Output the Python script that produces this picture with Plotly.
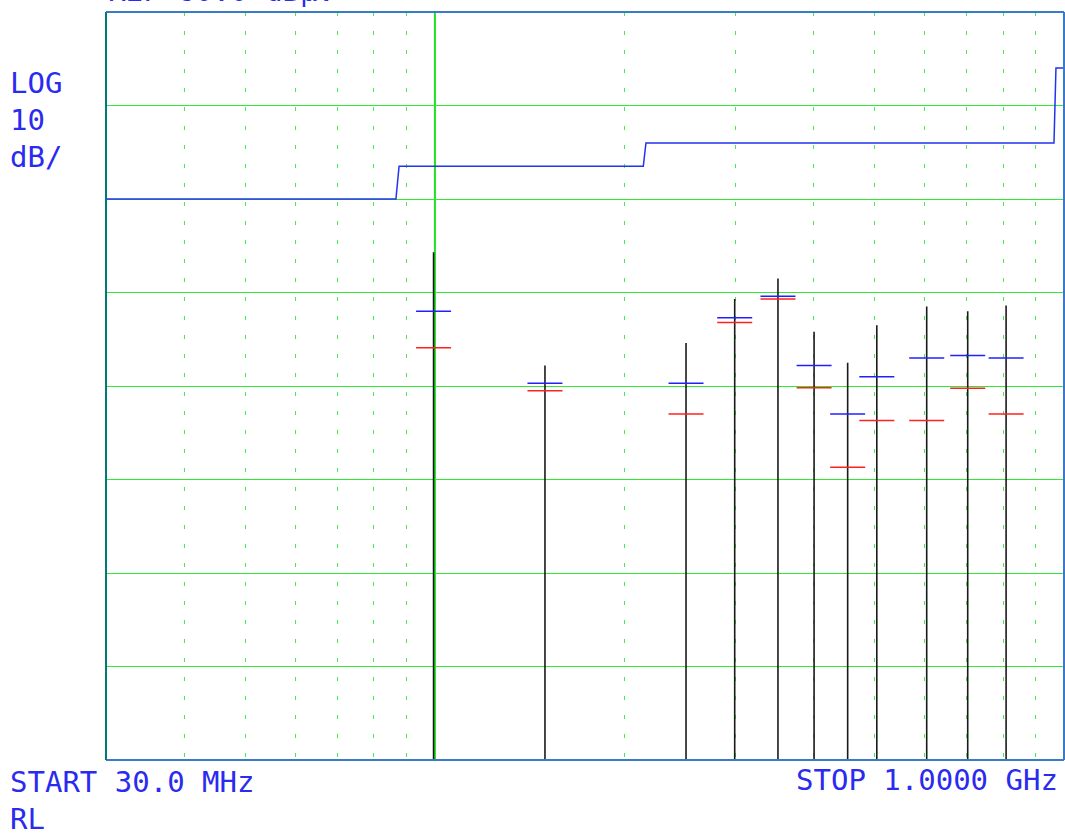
import math
import plotly.graph_objects as go

# ---- data ----
peak_freqs_mhz = [99.5, 149.6, 250.7, 299.6, 351.0, 400.6, 453.0, 504.0, 605.0, 703.0, 809.0]
peak_levels = [34.3, 22.2, 24.6, 29.3, 31.5, 25.8, 22.5, 26.5, 28.5, 28.0, 28.6]
qp_blue_levels = [28.0, 20.3, 20.3, 27.3, 29.6, 22.2, 17.0, 21.0, 23.0, 23.25, 23.0]
avg_red_levels = [24.1, 19.5, 17.0, 26.8, 29.3, 19.8, 11.3, 16.3, 16.3, 19.75, 17.0]

limit_freqs_mhz = [30, 86.7, 87.7, 214.4, 216.5, 964, 971, 1000]
limit_levels = [40, 40, 43.5, 43.5, 46, 46, 54, 54]

ref_level = 60.0
db_per_div = 10
n_div = 8
start_mhz = 30.0
stop_mhz = 1000.0
grid_freqs_mhz = [40, 50, 60, 70, 80, 90, 200, 300, 400, 500, 600, 700, 800, 900]
marker_freq_mhz = 100

bottom_level = ref_level - db_per_div * n_div

W, H = 1065, 836
L, R, T, B = 106, 1, 12, 76
GREEN = "#30ea30"
GREEN_DOT = "#44ee44"
TXT = "#2a2af0"
FONT = "DejaVu Sans Mono"

fig = go.Figure()

# limit line
fig.add_trace(go.Scatter(x=limit_freqs_mhz, y=limit_levels, mode="lines",
                         line=dict(color="#2233ee", width=1.5), hoverinfo="skip"))

# peak sticks
sx, sy = [], []
for f, v in zip(peak_freqs_mhz, peak_levels):
    sx += [f, f, None]
    sy += [bottom_level, v, None]
fig.add_trace(go.Scatter(x=sx, y=sy, mode="lines",
                         line=dict(color="#1a1a1a", width=1.6), hoverinfo="skip"))

# markers
fig.add_trace(go.Scatter(x=peak_freqs_mhz, y=avg_red_levels, mode="markers",
                         marker=dict(symbol="line-ew", size=25,
                                     line=dict(color="#ff2020", width=1.5))))
fig.add_trace(go.Scatter(x=peak_freqs_mhz, y=qp_blue_levels, mode="markers",
                         marker=dict(symbol="line-ew", size=25,
                                     line=dict(color="#2020ff", width=1.5))))

# solid marker line at 100 MHz
fig.add_shape(type="line", xref="x", yref="paper", x0=marker_freq_mhz, x1=marker_freq_mhz,
              y0=0, y1=1, line=dict(color="#22e022", width=2), layer="below")

# frame: left teal, top/bottom/right blue
fig.add_shape(type="line", xref="paper", yref="paper", x0=0, x1=1, y0=1, y1=1,
              line=dict(color="#3a7bc8", width=2))
fig.add_shape(type="line", xref="paper", yref="paper", x0=0, x1=1, y0=0, y1=0,
              line=dict(color="#3a7bc8", width=2))
fig.add_shape(type="line", xref="paper", yref="paper", x0=1, x1=1, y0=0, y1=1,
              line=dict(color="#3a7bc8", width=2))
fig.add_shape(type="line", xref="paper", yref="paper", x0=0, x1=0, y0=0, y1=1,
              line=dict(color="#007a78", width=2))

fig.update_xaxes(type="log", range=[math.log10(start_mhz), math.log10(stop_mhz)],
                 tickvals=grid_freqs_mhz, showticklabels=False, ticks="",
                 showgrid=True, gridcolor=GREEN_DOT, gridwidth=1, griddash="4px,15px",
                 zeroline=False, showline=False)
fig.update_yaxes(range=[bottom_level, ref_level],
                 tickvals=[bottom_level + db_per_div * i for i in range(1, n_div)],
                 showticklabels=False, ticks="", showgrid=True, gridcolor=GREEN,
                 gridwidth=1, zeroline=False, showline=False)

def ann(text, x, y, xanchor="left"):
    fig.add_annotation(text=text, xref="paper", yref="paper", x=x, y=y,
                       xanchor=xanchor, yanchor="middle", showarrow=False,
                       font=dict(family=FONT, size=29, color=TXT))

ann("LOG", -0.1023, 0.9057)
ann("10", -0.1023, 0.8556)
ann("dB/", -0.1023, 0.8061)
ann("START 30.0 MHz", -0.1023, -0.0294)
ann("RL", -0.1023, -0.0795)
ann("STOP 1.0000 GHz", 0.9958, -0.0267, xanchor="right")
ann("REF 60.0 dBμV", 0.0000, 1.0287)

fig.update_layout(width=W, height=H, margin=dict(l=L, r=R, t=T, b=B),
                  paper_bgcolor="white", plot_bgcolor="white", showlegend=False)

fig.write_html("out.html", config={"displayModeBar": False},
               post_script="document.body.style.margin='0';document.body.style.overflow='hidden';")
